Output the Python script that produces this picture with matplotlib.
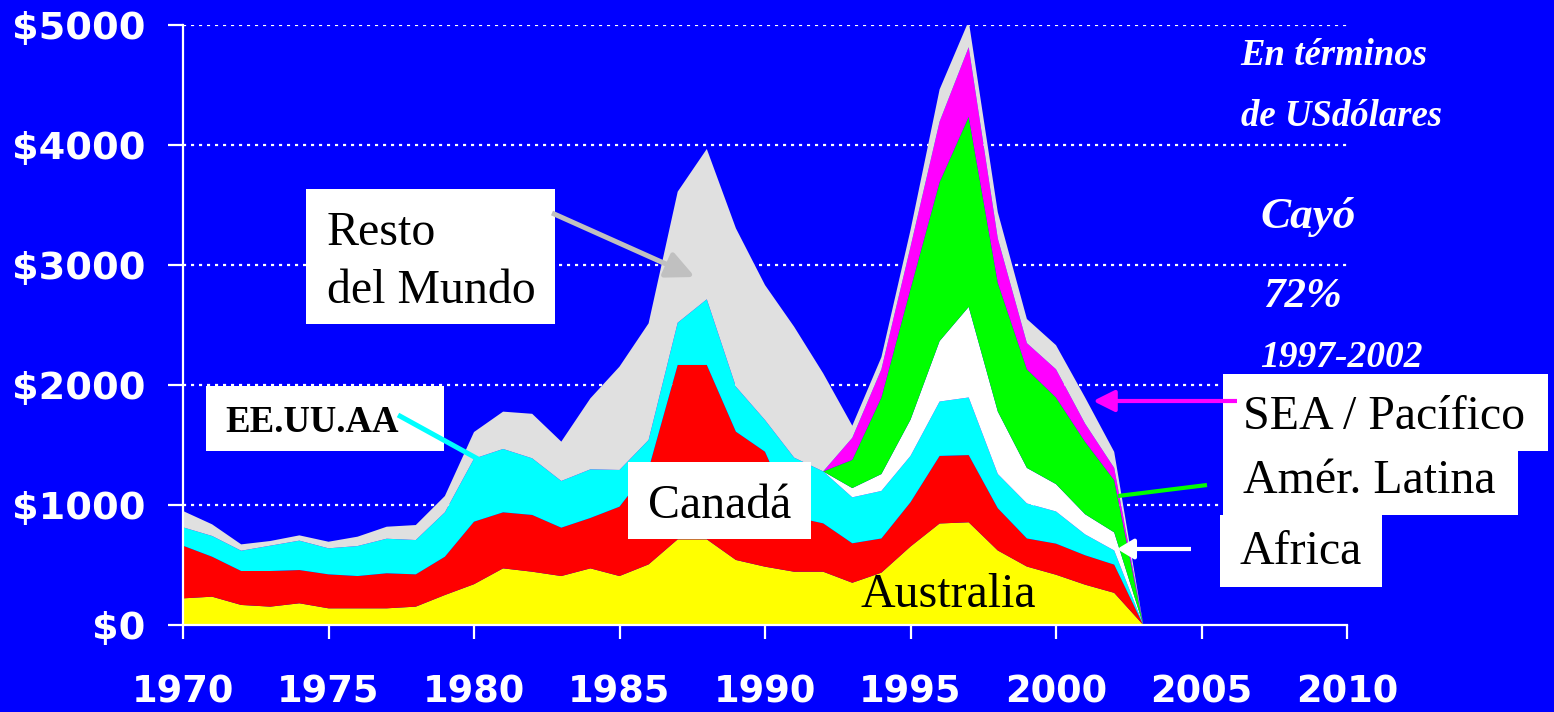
import matplotlib
matplotlib.use("Agg")
import matplotlib.pyplot as plt
from matplotlib.patches import Rectangle, FancyArrowPatch, ArrowStyle

years = list(range(1970, 2004))
australia = [222, 236, 167, 153, 181, 139, 139, 139, 153, 250, 340, 472, 444, 408, 472, 408, 505,
             714, 714, 542, 486, 444, 444, 352, 436, 654, 846, 856, 621, 487, 419, 336, 268, 0]
canada = [439, 333, 283, 297, 277, 283, 269, 292, 269, 319, 521, 467, 473, 403, 420, 578, 795,
          1453, 1453, 1069, 958, 456, 403, 329, 285, 369, 563, 560, 352, 234, 259, 245, 235, 0]
eeuu = [153, 173, 169, 211, 245, 217, 250, 288, 286, 370, 525, 528, 472, 389, 405, 306, 242,
        352, 547, 375, 264, 495, 433, 383, 396, 386, 453, 480, 285, 292, 268, 174, 118, 0]
africa = [0, 0, 0, 0, 0, 0, 0, 0, 0, 0, 0, 0, 0, 0, 0, 0, 0,
          0, 0, 0, 0, 0, 0, 77, 141, 302, 504, 755, 521, 296, 228, 168, 151, 0]
latina = [0, 0, 0, 0, 0, 0, 0, 0, 0, 0, 0, 0, 0, 0, 0, 0, 0,
          0, 0, 0, 0, 0, 0, 235, 638, 1090, 1325, 1584, 1073, 822, 722, 604, 436, 0]
sea = [0, 0, 0, 0, 0, 0, 0, 0, 0, 0, 0, 0, 0, 0, 0, 0, 0,
       0, 0, 0, 0, 0, 0, 184, 235, 350, 504, 580, 369, 218, 235, 151, 101, 0]
resto = [136, 97, 53, 39, 44, 55, 78, 100, 125, 136, 222, 311, 371, 328, 592, 861, 972,
         1092, 1253, 1320, 1125, 1091, 817, 101, 101, 140, 268, 219, 219, 201, 201, 218, 134, 0]

series_colors = ['#FFFF00', '#FF0000', '#00FFFF', '#FFFFFF', '#00FF00', '#FF00FF', '#E0E0E0']
yticks = [0, 1000, 2000, 3000, 4000, 5000]
ytick_labels = ['$0', '$1000', '$2000', '$3000', '$4000', '$5000']
xticks = [1970, 1975, 1980, 1985, 1990, 1995, 2000, 2005, 2010]
xtick_labels = [str(x) for x in xticks]

BLUE = '#0000FF'
W, H = 1554, 712

fig = plt.figure(figsize=(W / 100, H / 100), dpi=100, facecolor=BLUE)
ax = fig.add_axes([183 / W, 1 - 625 / H, (1347 - 183) / W, 600 / H])
ax.set_facecolor(BLUE)
ax.set_xlim(1970, 2010)
ax.set_ylim(0, 5000)

for v in yticks[1:]:
    ax.axhline(v, color='white', lw=1.6, ls=(0, (1.4, 2.2)), zorder=0.5)

ax.stackplot(years, australia, canada, eeuu, africa, latina, sea, resto,
             colors=series_colors, linewidth=0, zorder=1)

for s in ['top', 'right']:
    ax.spines[s].set_visible(False)
for s in ['left', 'bottom']:
    ax.spines[s].set_color('white')
    ax.spines[s].set_linewidth(1.6)
    ax.spines[s].set_zorder(3)

ax.set_yticks(yticks)
ax.set_yticklabels(ytick_labels)
ax.set_xticks(xticks)
ax.set_xticklabels(xtick_labels)
ax.tick_params(axis='y', direction='out', length=11, width=1.6, color='white',
               pad=16, labelcolor='white', labelsize=27.5)
ax.tick_params(axis='x', direction='out', length=10, width=1.6, color='white',
               pad=25, labelcolor='white', labelsize=26.5)
for lab in ax.get_yticklabels() + ax.get_xticklabels():
    lab.set_fontfamily('DejaVu Sans')
    lab.set_fontweight('bold')


def P(x, y):
    return (x / W, 1 - y / H)


def box(x0, y0, x1, y1):
    fig.add_artist(Rectangle(P(x0, y1), (x1 - x0) / W, (y1 - y0) / H,
                             transform=fig.transFigure, facecolor='white',
                             edgecolor='none', zorder=5))


def label(x, y, s, size=34.5, weight='normal', style='normal', color='black'):
    fig.text(*P(x, y), s, ha='left', va='baseline', fontsize=size,
             family='Liberation Serif', fontweight=weight, fontstyle=style,
             color=color, zorder=6)


def arrow(a, b, color, lw, head=None):
    if head is None:
        st = ArrowStyle('-')
    else:
        st = ArrowStyle('-|>', head_length=head[0], head_width=head[1])
    fig.add_artist(FancyArrowPatch(P(*a), P(*b), transform=fig.transFigure,
                                   arrowstyle=st, mutation_scale=10, lw=lw,
                                   color=color, shrinkA=0, shrinkB=0,
                                   capstyle='butt', zorder=6))


# Resto del Mundo
box(306, 189, 555, 324)
label(327, 245, 'Resto')
label(327, 303, 'del Mundo')
arrow((552, 213), (695, 277), '#C0C0C0', 3.6, head=(1.7, 0.8))

# EE.UU.AA
box(206, 386, 444, 451)
label(225, 432, 'EE.UU.AA', size=26.5, weight='bold')
arrow((398, 415), (478, 459), '#00FFFF', 3.6)

# Canadá
box(628, 462, 811, 539)
label(648, 518, 'Canadá')

# Australia
label(860, 607, 'Australia')

# right legend boxes
box(1223, 374, 1548, 451)
label(1243, 429, 'SEA / Pacífico')
box(1223, 451, 1518, 515)
label(1243, 493, 'Amér. Latina')
box(1220, 515, 1382, 587)
label(1240, 564, 'Africa')
arrow((1237, 401), (1093, 401), '#FF00FF', 3.0, head=(1.3, 0.65))
arrow((1207, 485), (1118, 496), '#00FF00', 3.0)
arrow((1191, 549), (1117, 549), '#FFFFFF', 3.0, head=(1.0, 0.6))

# right notes
label(1240, 65, 'En términos', size=26.5, weight='bold', style='italic', color='white')
label(1241, 126, 'de USdólares', size=26.5, weight='bold', style='italic', color='white')
label(1260, 228, 'Cayó', size=32.5, weight='bold', style='italic', color='white')
label(1263, 307, '72%', size=31, weight='bold', style='italic', color='white')
label(1260, 367, '1997-2002', size=27, weight='bold', style='italic', color='white')

fig.savefig('out.png', dpi=100, facecolor=BLUE)
